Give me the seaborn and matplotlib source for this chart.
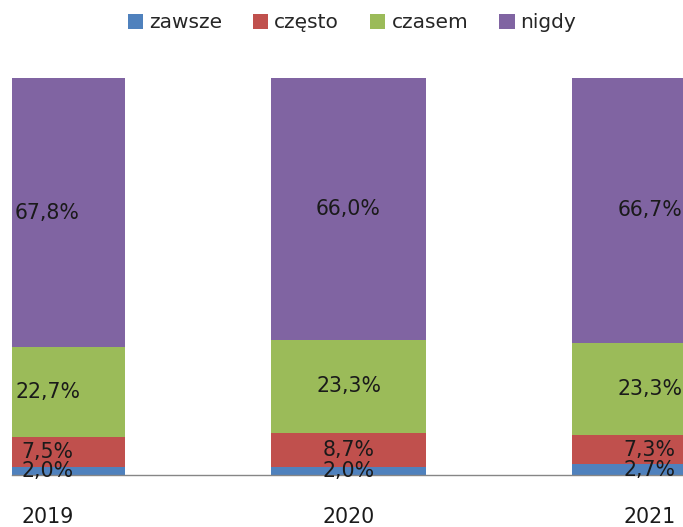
import matplotlib
matplotlib.use("Agg")
import matplotlib.pyplot as plt
import seaborn as sns
import numpy as np

years = ['2019', '2020', '2021']
categories = ['zawsze', 'często', 'czasem', 'nigdy']
zawsze = [2.0, 2.0, 2.7]
czesto = [7.5, 8.7, 7.3]
czasem = [22.7, 23.3, 23.3]
nigdy = [67.8, 66.0, 66.7]
colors = ['#4F81BD', '#C0504D', '#9BBB59', '#8064A2']

sns.set_style("white")
plt.rcParams['font.family'] = ['DejaVu Sans']

fig = plt.figure(figsize=(6.83, 5.27), dpi=100)
ax = fig.add_axes([12 / 683, 52 / 527, 671 / 683, 397 / 527])

bottom = np.zeros(len(years))
for name, vals, col in zip(categories, [zawsze, czesto, czasem, nigdy], colors):
    sns.barplot(x=years, y=vals, bottom=bottom, color=col, width=0.515,
                saturation=1, linewidth=0, label=name, ax=ax)
    for i, v in enumerate(vals):
        ax.text(i, bottom[i] + v / 2, f"{v:.1f}%".replace('.', ','),
                ha='center', va='center', fontsize=14.8, color='#1a1a1a')
    bottom += np.array(vals)

ax.set_xlim(-0.118, 2.111)
ax.set_ylim(0, 100)
ax.set_yticks([])
ax.set_xlabel('')
ax.set_ylabel('')
for side in ['top', 'right', 'left']:
    ax.spines[side].set_visible(False)
ax.spines['bottom'].set_color('#868686')
ax.spines['bottom'].set_linewidth(1)
ax.tick_params(axis='x', length=0, pad=23, labelsize=14.8, labelcolor='#1a1a1a')

ax.legend(loc='center', bbox_to_anchor=(352 / 683, 1 - 23 / 527),
          bbox_transform=fig.transFigure, ncol=4, frameon=False,
          fontsize=14.5, handlelength=0.75, handleheight=0.75,
          handletextpad=0.3, columnspacing=1.55)

fig.savefig('out.png', dpi=100)
